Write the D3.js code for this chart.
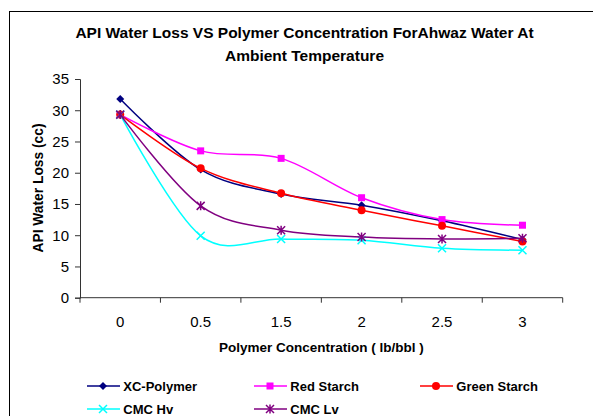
<!DOCTYPE html>
<html>
<head>
<meta charset="utf-8">
<script src="https://cdn.jsdelivr.net/npm/d3@7"></script>
<style>
  body { margin: 0; background: #fff; }
  svg { display: block; font-family: "Liberation Sans", Arial, sans-serif; }
</style>
</head>
<body>
<div id="chart"></div>
<script>
// data
const categories = ["0", "0.5", "1.5", "2", "2.5", "3"];
const xcPolymer = [31.8, 20.5, 16.6, 14.8, 12.3, 9.3];
const redStarch = [29.3, 23.5, 22.3, 16.0, 12.5, 11.6];
const greenStarch = [29.3, 20.7, 16.7, 14.0, 11.5, 9.0];
const cmcHv = [29.3, 9.9, 9.4, 9.2, 7.9, 7.6];
const cmcLv = [29.3, 14.7, 10.8, 9.7, 9.4, 9.5];
const yTicks = [0, 5, 10, 15, 20, 25, 30, 35];

const series = [
  { name: "XC-Polymer", values: xcPolymer, color: "#000080", marker: "diamond" },
  { name: "Red Starch", values: redStarch, color: "#ff00ff", marker: "square" },
  { name: "Green Starch", values: greenStarch, color: "#ff0000", marker: "circle" },
  { name: "CMC Hv", values: cmcHv, color: "#00ffff", marker: "x" },
  { name: "CMC Lv", values: cmcLv, color: "#800080", marker: "star" },
];

const width = 593, height = 416;
const margin = { top: 79, right: 30.3, bottom: 118.3, left: 80 };
const fontFamily = "'Liberation Sans', Arial, sans-serif";

const svg = d3.select("#chart").append("svg")
  .attr("width", width)
  .attr("height", height);

// chart border (runs off the right and bottom of the picture)
svg.append("rect")
  .attr("x", 9.5).attr("y", 11.5)
  .attr("width", 620).attr("height", 440)
  .attr("fill", "none").attr("stroke", "#000").attr("stroke-width", 1);

// title
const title = svg.append("text")
  .attr("text-anchor", "middle")
  .attr("font-weight", "bold")
  .attr("font-size", 15.5)
  .attr("fill", "#000");
title.append("tspan").attr("x", 304.5).attr("y", 38)
  .text("API Water Loss VS Polymer Concentration ForAhwaz Water At");
title.append("tspan").attr("x", 304.5).attr("y", 60.5)
  .text("Ambient Temperature");

const x = d3.scaleBand()
  .domain(categories)
  .range([margin.left, width - margin.right]);
const y = d3.scaleLinear()
  .domain([0, 35])
  .range([height - margin.bottom, margin.top]);

// y axis
const yAxis = svg.append("g")
  .attr("transform", `translate(${margin.left},0)`)
  .call(d3.axisLeft(y).tickValues(yTicks).tickSize(5).tickPadding(6));
yAxis.selectAll("text").attr("font-size", 15).attr("fill", "#000")
  .attr("font-family", fontFamily);
yAxis.select(".domain").attr("stroke", "#333");
yAxis.selectAll(".tick line").attr("stroke", "#333");

// x axis: labels at band centres, ticks at band edges
const xAxis = svg.append("g")
  .attr("transform", `translate(0,${y(0)})`)
  .call(d3.axisBottom(x).tickSize(0));
xAxis.selectAll("text")
  .attr("font-size", 15).attr("fill", "#000")
  .attr("font-family", fontFamily)
  .attr("y", 29.8).attr("dy", 0);
xAxis.select(".domain").attr("stroke", "#333").attr("d",
  `M${x.range()[0]},0H${x.range()[1]}`);
const edges = categories.map(c => x(c)).concat([x.range()[1]]);
xAxis.selectAll(".edge")
  .data(edges)
  .join("line")
  .attr("class", "edge")
  .attr("x1", d => d).attr("x2", d => d)
  .attr("y1", 0).attr("y2", 5)
  .attr("stroke", "#333");

// axis titles
svg.append("text")
  .attr("x", (x.range()[0] + x.range()[1]) / 2).attr("y", 352)
  .attr("text-anchor", "middle")
  .attr("font-weight", "bold").attr("font-size", 13.5)
  .text("Polymer Concentration ( lb/bbl )");
svg.append("text")
  .attr("transform", "translate(42.5,188) rotate(-90)")
  .attr("text-anchor", "middle")
  .attr("font-weight", "bold").attr("font-size", 13.8)
  .text("API Water Loss (cc)");

// markers
function drawMarker(g, type, color) {
  if (type === "diamond") {
    g.append("path").attr("d", "M0,-4L4,0L0,4L-4,0Z").attr("fill", color);
  } else if (type === "square") {
    g.append("rect").attr("x", -3.5).attr("y", -3.5).attr("width", 7).attr("height", 7)
      .attr("fill", color);
  } else if (type === "circle") {
    g.append("circle").attr("r", 4).attr("fill", color);
  } else if (type === "x") {
    g.append("path").attr("d", "M-4,-4L4,4M-4,4L4,-4")
      .attr("stroke", color).attr("stroke-width", 1.5).attr("fill", "none");
  } else if (type === "star") {
    g.append("path").attr("d", "M-4,-4L4,4M-4,4L4,-4M0,-4.5V4.5")
      .attr("stroke", color).attr("stroke-width", 1.5).attr("fill", "none");
  }
}

const line = d3.line()
  .x((d, i) => x(categories[i]) + x.bandwidth() / 2)
  .y(d => y(d))
  .curve(d3.curveCardinal.tension(0));

series.forEach(s => {
  svg.append("path")
    .datum(s.values)
    .attr("fill", "none")
    .attr("stroke", s.color)
    .attr("stroke-width", 1.5)
    .attr("d", line);
  s.values.forEach((v, i) => {
    const g = svg.append("g")
      .attr("transform", `translate(${x(categories[i]) + x.bandwidth() / 2},${y(v)})`);
    drawMarker(g, s.marker, s.color);
  });
});

// legend
const legendPos = [
  [87, 386], [254, 386], [420, 386],
  [87, 409], [254, 409],
];
series.forEach((s, i) => {
  const g = svg.append("g")
    .attr("transform", `translate(${legendPos[i][0]},${legendPos[i][1]})`);
  g.append("line").attr("x1", 0).attr("x2", 33).attr("y1", 0).attr("y2", 0)
    .attr("stroke", s.color).attr("stroke-width", 1.5);
  const m = g.append("g").attr("transform", "translate(16,0)");
  drawMarker(m, s.marker, s.color);
  g.append("text")
    .attr("x", 36.3).attr("y", 4.7)
    .attr("font-weight", "bold").attr("font-size", 13)
    .text(s.name);
});
</script>
</body>
</html>
